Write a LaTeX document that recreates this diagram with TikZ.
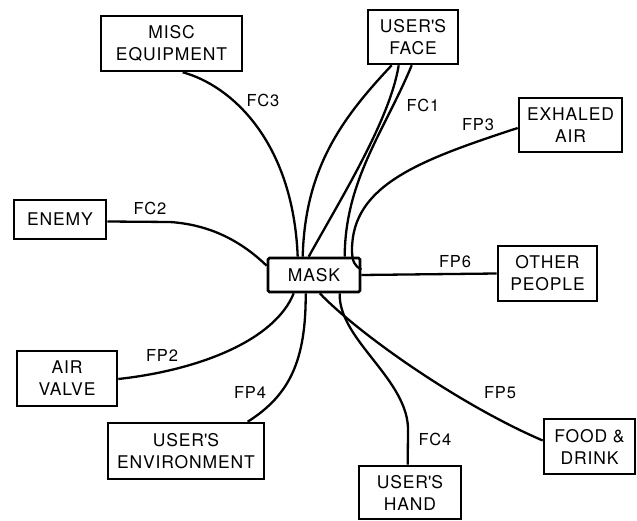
\documentclass[tikz,border=0pt]{standalone}
\usepackage{fontspec}
\setmainfont{TeX Gyre Heros}
\newfontfamily\boxfont[LetterSpace=5]{TeX Gyre Heros}
\usetikzlibrary{calc}
\begin{document}
\begin{tikzpicture}[x=1pt,y=-1pt,
  box/.style={draw, line width=2.6pt, inner sep=0pt, align=center,
    font=\boxfont\fontsize{17.5}{22}\selectfont},
  lab/.style={font=\boxfont\fontsize{16.5}{18}\selectfont, inner sep=0pt},
  link/.style={line width=2.3pt}]
\useasboundingbox (0,0) rectangle (637,521);
% boxes
\node[box, minimum width=141pt, minimum height=55pt] (misc) at (171.5,43.5) {MISC\\EQUIPMENT};
\node[box, minimum width=90pt, minimum height=54pt] (face) at (413,37) {USER\textquotesingle S\\FACE};
\node[box, minimum width=103pt, minimum height=54pt] (exhaled) at (570.5,125) {EXHALED\\AIR};
\node[box, minimum width=99pt, minimum height=55pt] (other) at (547.5,273.5) {OTHER\\PEOPLE};
\node[box, minimum width=92pt, minimum height=39pt] (enemy) at (60,219.5) {ENEMY};
\node[box, minimum width=92pt, minimum height=34pt, rounded corners=1.5pt] (mask) at (314,275) {MASK};
\node[box, minimum width=100pt, minimum height=55pt] (valve) at (67,378.5) {AIR\\VALVE};
\node[box, minimum width=156pt, minimum height=56pt] (env) at (186,451) {USER\textquotesingle S\\ENVIRONMENT};
\node[box, minimum width=102pt, minimum height=53pt] (hand) at (410,492.5) {USER\textquotesingle S\\HAND};
\node[box, minimum width=91pt, minimum height=55pt] (food) at (589.5,446.5) {FOOD \&\\DRINK};
% labels
\node[lab] (lfc3) at (263,100) {FC3};
\node[lab] (lfc1) at (423,105) {FC1};
\node[lab] (lfp3) at (478,125) {FP3};
\node[lab] (lfc2) at (150,208) {FC2};
\node[lab] (lfp6) at (455,262) {FP6};
\node[lab] (lfp2) at (162,355) {FP2};
\node[lab] (lfp4) at (250,392) {FP4};
\node[lab] (lfp5) at (500,393) {FP5};
\node[lab] (lfc4) at (435,439) {FC4};
% connectors
\draw[link] ($(misc.south west)+(83,0)$) .. controls (230,85) and (293,140) .. ($(mask.north west)+(31,0)$);
\draw[link] ($(face.south west)+(25,0)$) .. controls (340,120) and (305,170) .. ($(mask.north west)+(36,0)$);
\draw[link] ($(face.south west)+(32,0)$) .. controls (390,120) and (340,200) .. ($(mask.north west)+(42,0)$);
\draw[link] ($(face.south west)+(45,0)$) .. controls (385,130) and (345,180) .. ($(mask.north west)+(78,0)$);
\draw[link] ($(exhaled.west)+(0,3)$) .. controls (420,160) and (352,185) .. (352,250)
  .. controls (352,262) and (355,266) .. ($(mask.north east)+(0,13)$);
\draw[link] (mask.east) -- (other.west);
\draw[link] ($(enemy.east)+(0,2)$) -- (170,222) .. controls (215,225) and (245,245) .. ($(mask.north west)+(0,9)$);
\draw[link] ($(valve.east)+(0,0.5)$) .. controls (200,370) and (275,340) .. ($(mask.south west)+(27,0)$);
\draw[link] ($(env.north west)+(141,0)$) .. controls (290,395) and (306,360) .. ($(mask.south west)+(39,0)$);
\draw[link] ($(mask.south west)+(53,0)$) .. controls (360,335) and (460,405) .. ($(food.west)+(0,-6)$);
\draw[link] ($(mask.south west)+(73,0)$) .. controls (338,340) and (410,380) .. (408,432) -- ($(hand.north west)+(50,0)$);
\end{tikzpicture}
\end{document}
